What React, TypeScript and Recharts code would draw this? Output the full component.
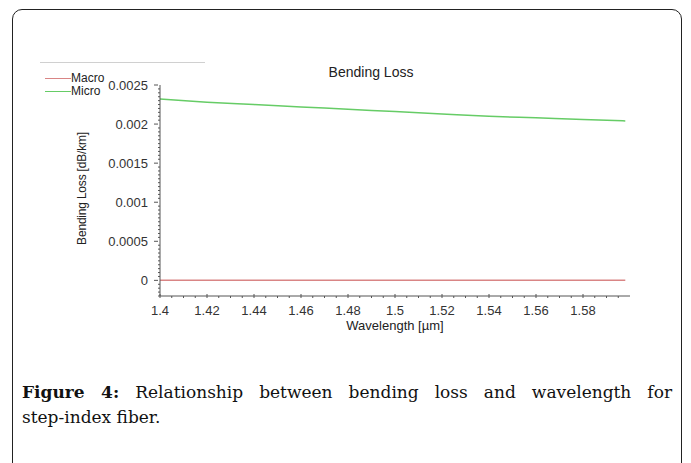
import React from 'react';
import { LineChart, Line, XAxis, YAxis } from 'recharts';

// wavelength in µm
const wavelengths = [1.4, 1.42, 1.44, 1.46, 1.48, 1.5, 1.52, 1.54, 1.56, 1.58, 1.598];
// bending loss in dB/km
const microLoss = [0.00232, 0.00228, 0.00225, 0.00222, 0.00219, 0.00216, 0.00213, 0.0021, 0.00208, 0.00206, 0.00204];
const macroLoss = [0, 0, 0, 0, 0, 0, 0, 0, 0, 0, 0];

const xTicks = [1.4, 1.42, 1.44, 1.46, 1.48, 1.5, 1.52, 1.54, 1.56, 1.58];
const yTicks = [0, 0.0005, 0.001, 0.0015, 0.002, 0.0025];

const seriesNames = ['Macro', 'Micro'];
const seriesColors = ['#d98585', '#66cc66'];

// small tick marks between the labelled ones
const minorX: number[] = [];
for (let i = 0; i <= 39; i++) minorX.push(+(1.4 + i * 0.005).toFixed(3));
const minorY: number[] = [];
for (let i = -4; i <= 50; i++) minorY.push(+(i * 0.00005).toFixed(5));

const isMajor = (v: number, majors: number[]) => majors.some(m => Math.abs(m - v) < 1e-9);

const chartData = wavelengths.map((w, i) => ({
    wavelength: w,
    macro: macroLoss[i],
    micro: microLoss[i],
}));

const font = '"Liberation Sans", Arial, sans-serif';
const tickStyle = { fill: '#333', fontSize: 13, fontFamily: font };

const XTick = (props: any) => {
    const { x, y, payload } = props;
    const major = isMajor(payload.value, xTicks);
    return (
        <g>
            <line x1={x} x2={x} y1={y} y2={major ? y - 4 : y - 2} stroke="#555" />
            {major && (
                <text x={x} y={y + 17} textAnchor="middle" style={tickStyle}>{payload.value}</text>
            )}
        </g>
    );
};

const YTick = (props: any) => {
    const { x, y, payload } = props;
    const major = isMajor(payload.value, yTicks);
    return (
        <g>
            <line x1={x} x2={major ? x - 4 : x + 2} y1={y} y2={y} stroke="#555" />
            {major && (
                <text x={x - 10} y={y} textAnchor="end" dominantBaseline="central" style={tickStyle}>{payload.value}</text>
            )}
        </g>
    );
};

const App: React.FC = () => {
    return (
        <div style={{ position: 'absolute', left: 0, top: 0, width: 691, height: 463, background: '#fff', overflow: 'hidden' }}>
            <div style={{ position: 'absolute', left: 12, top: 9, width: 668, height: 480, border: '1.5px solid #222', borderRadius: 10 }} />

            {/* legend */}
            <div style={{ position: 'absolute', left: 40, top: 62, width: 165, height: 1, background: '#d0d0d0' }} />
            {seriesNames.map((name, i) => (
                <div key={name} style={{ position: 'absolute', left: 45, top: 72 + i * 13, height: 13, display: 'flex', alignItems: 'center', fontFamily: font, fontSize: 12, color: '#222', lineHeight: '13px' }}>
                    <span style={{ display: 'inline-block', width: 26, height: 1.5, background: seriesColors[i] }} />
                    <span>{name}</span>
                </div>
            ))}

            <div style={{ position: 'absolute', left: 280, top: 64, width: 182, textAlign: 'center', fontFamily: font, fontSize: 14, color: '#222' }}>
                Bending Loss
            </div>

            <div style={{ position: 'absolute', left: 0, top: 0 }}>
                <LineChart width={691} height={340} data={chartData} margin={{ top: 85, right: 61, left: 100, bottom: 4 }}>
                    <XAxis dataKey="wavelength" type="number" domain={[1.4, 1.6]} ticks={minorX} height={40}
                        tick={<XTick />} tickSize={0} tickLine={false} axisLine={{ stroke: '#555' }} interval={0}
                        label={{ value: 'Wavelength [µm]', position: 'insideBottom', offset: 6, style: { ...tickStyle, fill: '#222' } }} />
                    <YAxis type="number" domain={[-0.0002, 0.0025]} ticks={minorY} width={60} tick={<YTick />}
                        tickSize={0} tickLine={false} axisLine={{ stroke: '#555' }} interval={0}
                        label={(props: any) => {
                            const vb = props.viewBox;
                            const x = vb.x - 18;
                            const y = vb.y + vb.height / 2 - 2;
                            return (
                                <text x={x} y={y} transform={`rotate(-90, ${x}, ${y})`} textAnchor="middle"
                                    dominantBaseline="central" style={{ ...tickStyle, fontSize: 12, letterSpacing: -0.2, fill: '#222' }}>
                                    Bending Loss [dB/km]
                                </text>
                            );
                        }} />
                    <Line dataKey="macro" name="Macro" stroke={seriesColors[0]} strokeWidth={1.5} dot={false} isAnimationActive={false} />
                    <Line dataKey="micro" name="Micro" stroke={seriesColors[1]} strokeWidth={1.5} dot={false} isAnimationActive={false} type="monotone" />
                </LineChart>
            </div>

            <div style={{ position: 'absolute', left: 22, top: 380, width: 650, fontFamily: '"DejaVu Serif", "Liberation Serif", serif', fontSize: 17, color: '#111', lineHeight: '25px' }}>
                <div style={{ textAlign: 'justify', textAlignLast: 'justify' }}>
                    <b>Figure 4:</b> Relationship between bending loss and wavelength for
                </div>
                <div>step-index fiber.</div>
            </div>
        </div>
    );
};

export default App;
